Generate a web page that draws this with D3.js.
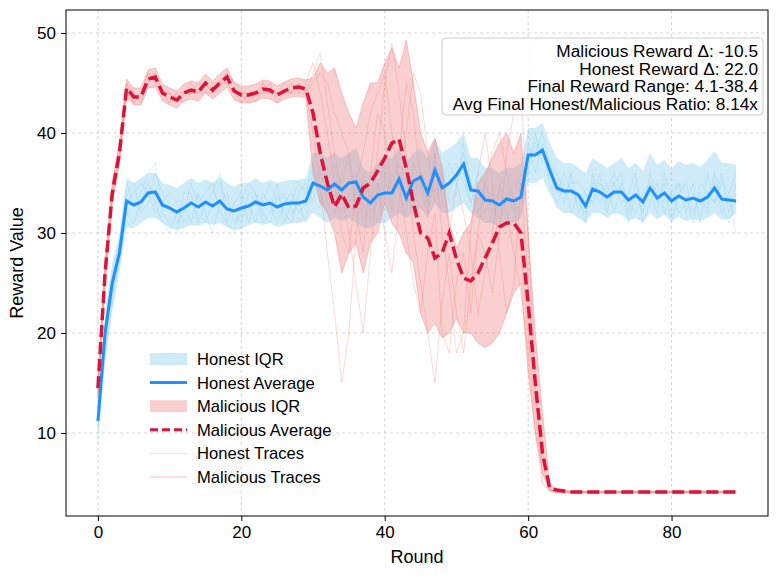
<!DOCTYPE html>
<html><head><meta charset="utf-8">
<script src="https://cdn.jsdelivr.net/npm/d3@7"></script>
<style>
  body { margin: 0; background: #fff; }
  text { font-family: "Liberation Sans", Arial, sans-serif; }
</style></head>
<body><svg id="chart" width="777" height="577"></svg>
<script>
// rounds 0..89
const rounds = d3.range(90)

const honestAvg = [11.2,20,25,28,33.2,32.8,33.1,34,34.1,32.8,32.5,32.1,32.5,33,32.6,33.1,32.7,33.2,32.4,32.2,32.5,32.7,33.1,32.8,33,32.6,32.9,33,33,33.2,35,34.7,34.3,34.9,34.3,35,35.1,33.6,33,33.8,34,34,35.4,33.5,35.2,35.6,34,36.3,34.5,35,35.8,36.9,34.3,34.2,33.3,33.2,32.8,33.4,33.2,33.6,37.8,37.8,38.3,36.3,34.5,34.2,34.2,33.8,32.7,34.4,34.1,33.6,34.1,34.1,33.3,33.8,33.1,34.5,33.5,34,33.2,33.7,33.3,33.5,33.2,33.6,34.5,33.4,33.3,33.2]
const honestLow = [10,17,22,26,30.5,30.5,31,31.5,31.5,31,30.5,30.3,30.5,30.8,30.7,31,30.8,31,30.6,30.3,30.4,30.8,31,30.8,31,30.6,30.8,31,31,31.2,32,31.5,31,31.5,31.2,31.5,31,30.5,30.5,31,31,31.5,32,31.5,32,32.5,31.5,33,32,32,32.5,33,32,31.5,31,31,30.5,31,31,31.5,35,35,35.5,34,32.5,32,32,31.5,31,32,32,31.5,32,31.8,31.2,31.5,31,32,31.4,31.8,31.2,31.6,31.2,31.4,31.2,31.5,32,31.3,31.4,32]
const honestHigh = [12.5,22,27,30,35.5,35,35.5,36,36,35,34.8,34.5,35,35.5,35,35.4,35,35.6,35,34.6,35,35,35.5,35,35.3,35,35.2,35.3,35.3,35.5,38,38,37.5,38,37.5,38,38.5,36.5,36,37,37.5,37.5,38.5,37,38,38.5,37.5,39.5,38,38.5,39,40,37.5,37.5,36.5,36.5,36,36.5,36.5,37,40.5,40.5,41,39,37.5,37,37,36.5,36,37.5,37,36.5,37,37.5,36.5,37,36.2,38,36.8,37.3,36.4,37.2,36.8,37,36.6,37.3,38.2,37,37,36.8]

const malAvg = [14.5,26,34,38,44.5,43.6,43.6,45.4,45.6,44,43.6,43.3,44,44.3,44.1,45,44.3,45,45.6,44.2,43.8,43.8,44,44.4,44.3,43.8,44.2,44.5,44.6,44.4,42,38,35,32.6,33.9,32.5,32.7,34.5,35,36.2,37.5,39,39.4,36.5,33,30,29.5,27.5,28,30,27.4,25.5,25.2,26,27.5,29,30.6,31,31,30,23,15,8,4.5,4.3,4.2,4.1,4.1,4.1,4.1,4.1,4.1,4.1,4.1,4.1,4.1,4.1,4.1,4.1,4.1,4.1,4.1,4.1,4.1,4.1,4.1,4.1,4.1,4.1,4.1]
const malLow = [13.5,25,33,37,43.5,42.8,42.8,44.5,44.6,43.2,42.8,42.5,43.2,43.4,43.2,44,43.4,44,44.6,43.3,43,43,43.2,43.5,43.4,43,43.4,43.6,43.7,43.5,36,33,32,30,26,28,29,26,29,30,33,31,30,28,27,22,20,21,19.5,20,21.5,20,20,19,18.5,19,20,22,24,25,16,10,6,4.2,4,4,4,4,4,4,4,4,4,4,4,4,4,4,4,4,4,4,4,4,4,4,4,4,4,4]
const malHigh = [15.5,27,35,39,45.4,44.5,44.5,46.3,46.5,44.9,44.5,44.2,44.9,45.2,45,45.9,45.2,45.9,46.5,45.1,44.7,44.7,44.9,45.3,45.2,44.7,45.1,45.4,45.5,45.3,45.5,47,46,46.5,44,42,40.5,43,45,45,47,48.5,46.5,49.3,45,40,38,39.5,36.5,31,28.5,30,31,35,36,37.5,39,40,38,40,30,20,12,5,4.3,4.3,4.2,4.2,4.2,4.2,4.2,4.2,4.2,4.2,4.2,4.2,4.2,4.2,4.2,4.2,4.2,4.2,4.2,4.2,4.2,4.2,4.2,4.2,4.2,4.2]

const honestTraces = [
  [10,19,24,27,32,31,33,35,33,31,30,32,33,31,34,32,30,33,34,31,32,33,31,34,33,31,33,34,32,33,36,33,35,37,32,34,36,31,33,35,33,36,34,32,37,35,33,38,33,36,37,35,33,35,32,34,31,34,33,32,39,36,39,35,33,35,32,34,31,36,33,35,32,35,31,34,32,36,33,35,31,34,35,32,34,32,36,33,31,34],
  [12,21,26,29,34,35,32,33,36,34,33,31,32,35,33,34,35,32,31,33,34,31,34,32,31,34,32,31,34,35,33,37,33,32,36,37,33,35,32,33,36,32,37,35,33,36,35,34,37,33,34,39,35,32,34,31,34,33,35,34,36,40,37,37,35,33,36,32,34,33,36,32,35,33,34,36,31,33,35,32,34,32,33,35,31,36,33,35,34,30],
  [9,18,23,28,33,34,35,34,32,33,34,33,31,32,32,31,33,35,33,32,31,34,33,33,35,33,34,32,33,31,35,36,34,35,34,33,34,35,34,31,35,34,35,33,34,36,33,35,36,34,36,36,33,36,35,33,34,35,32,35,38,38,40,37,36,34,35,35,34,33,35,34,36,34,33,32,34,35,34,33,34,35,32,34,33,33,35,32,34,36],
  [11,20,25,29,35,33,34,36,37,32,31,30,34,34,31,33,34,36,31,30,33,35,34,31,32,35,31,33,35,34,37,34,32,36,35,38,34,33,31,34,37,33,36,34,36,34,32,36,35,37,35,38,34,33,35,32,33,31,34,36,37,39,38,36,34,36,34,33,32,35,34,33,35,36,32,35,33,34,32,36,33,35,34,31,35,34,33,36,32,35]
]
const malTraces = [
  [14,26,34,38,45,44,43,46,45,44,44,43,44,45,44,45,44,45,46,44,44,43,44,45,44,44,44,45,44,45,47,44,40,35,30,28,35,38,42,44,46,40,35,30,25,22,28,32,20,18,25,28,22,30,35,38,40,36,33,28,20,12,6,4.3,4.2,4.1,4.1,4.1,4.1,4.1,4.1,4.1,4.1,4.1,4.1,4.1,4.1,4.1,4.1,4.1,4.1,4.1,4.1,4.1,4.1,4.1,4.1,4.1,4.1,4.1],
  [15,26,34,38,44,43,44,45,46,44,43,44,43,44,44,44,45,45,45,44,43,44,44,44,45,43,44,44,45,44,40,35,28,22,15,20,30,36,33,38,45,49,44,38,30,25,20,15,23,28,22,18,25,30,28,24,30,38,42,45,30,15,5,4.2,4.1,4.1,4.1,4.1,4.1,4.1,4.1,4.1,4.1,4.1,4.1,4.1,4.1,4.1,4.1,4.1,4.1,4.1,4.1,4.1,4.1,4.1,4.1,4.1,4.1,4.1],
  [14,25,33,37,44,44,43,45,46,44,44,43,44,44,44,45,44,45,46,45,44,44,44,44,44,44,44,44,45,44,45,46,45,42,40,38,32,28,36,42,40,34,38,45,42,35,32,38,30,25,18,20,30,36,40,35,28,22,25,35,25,14,7,4.4,4.1,4.1,4.1,4.1,4.1,4.1,4.1,4.1,4.1,4.1,4.1,4.1,4.1,4.1,4.1,4.1,4.1,4.1,4.1,4.1,4.1,4.1,4.1,4.1,4.1,4.1],
  [15,27,35,39,45,43,44,46,45,44,43,44,44,44,45,44,44,45,45,44,44,44,43,45,44,44,45,44,44,44,46,48,43,38,34,30,25,20,28,35,30,26,33,40,46,44,38,33,36,30,35,32,28,22,26,30,35,32,28,24,18,10,5,4.3,4.1,4.1,4.1,4.1,4.1,4.1,4.1,4.1,4.1,4.1,4.1,4.1,4.1,4.1,4.1,4.1,4.1,4.1,4.1,4.1,4.1,4.1,4.1,4.1,4.1,4.1]
]

const xTicks = [0, 20, 40, 60, 80]
const yTicks = [10, 20, 30, 40, 50]
const statLines = [
  'Malicious Reward Δ: -10.5',
  'Honest Reward Δ: 22.0',
  'Final Reward Range: 4.1-38.4',
  'Avg Final Honest/Malicious Ratio: 8.14x'
]

const svg = d3.select('#chart')
const m = { left: 66, right: 9, top: 10, bottom: 61 }
const W = 777, H = 577

const x = d3.scaleLinear().domain([-4.45, 93.45]).range([m.left, W - m.right])
const y = d3.scaleLinear().domain([1.7, 52.3]).range([H - m.bottom, m.top])

const g = svg.append('g')

// grid
g.selectAll('.gx').data(xTicks).join('line')
  .attr('x1', d => x(d)).attr('x2', d => x(d))
  .attr('y1', m.top).attr('y2', H - m.bottom)
  .attr('stroke', '#c8c8c8').attr('stroke-width', 0.8).attr('stroke-dasharray', '3,3')
g.selectAll('.gy').data(yTicks).join('line')
  .attr('y1', d => y(d)).attr('y2', d => y(d))
  .attr('x1', m.left).attr('x2', W - m.right)
  .attr('stroke', '#c8c8c8').attr('stroke-width', 0.8).attr('stroke-dasharray', '3,3')

const line = vals => d3.line().x((d, i) => x(rounds[i])).y(d => y(d))(vals)
const band = (lo, hi) => d3.area().x((d, i) => x(rounds[i])).y0((d, i) => y(lo[i])).y1(d => y(d))(hi)

g.selectAll('.ht').data(honestTraces).join('path')
  .attr('d', line).attr('fill', 'none').attr('stroke', '#87ceeb').attr('stroke-opacity', 0.3).attr('stroke-width', 1)
g.selectAll('.mt').data(malTraces).join('path')
  .attr('d', line).attr('fill', 'none').attr('stroke', '#fa8072').attr('stroke-opacity', 0.3).attr('stroke-width', 1)

g.append('path').attr('d', band(honestLow, honestHigh)).attr('fill', '#87ceeb').attr('fill-opacity', 0.4)
g.append('path').attr('d', band(malLow, malHigh)).attr('fill', '#f08080').attr('fill-opacity', 0.38)
  .attr('stroke', '#f08080').attr('stroke-opacity', 0.4)

g.append('path').attr('d', line(honestAvg)).attr('fill', 'none').attr('stroke', '#1e90ff').attr('stroke-width', 3)
g.append('path').attr('d', line(malAvg)).attr('fill', 'none').attr('stroke', '#dc143c')
  .attr('stroke-width', 3.5).attr('stroke-dasharray', '12,5')

// frame + axes
svg.append('rect').attr('x', m.left).attr('y', m.top)
  .attr('width', W - m.left - m.right).attr('height', H - m.top - m.bottom)
  .attr('fill', 'none').attr('stroke', '#000').attr('stroke-width', 1)

const xAxis = svg.append('g').attr('transform', `translate(0,${H - m.bottom})`)
  .call(d3.axisBottom(x).tickValues(xTicks).tickSize(5).tickPadding(5))
const yAxis = svg.append('g').attr('transform', `translate(${m.left},0)`)
  .call(d3.axisLeft(y).tickValues(yTicks).tickSize(5).tickPadding(5))
;[xAxis, yAxis].forEach(a => {
  a.select('.domain').remove()
  a.selectAll('text').attr('font-size', 17).attr('fill', '#000')
    .style('font-family', '"Liberation Sans", Arial, sans-serif')
})

svg.append('text').attr('x', (m.left + W - m.right) / 2).attr('y', 563)
  .attr('text-anchor', 'middle').attr('font-size', 18).text('Round')
svg.append('text').attr('transform', `translate(23,${(m.top + H - m.bottom) / 2}) rotate(-90)`)
  .attr('text-anchor', 'middle').attr('font-size', 18).text('Reward Value')

// stats box
svg.append('rect').attr('x', 442).attr('y', 38).attr('width', 321).attr('height', 77).attr('rx', 4)
  .attr('fill', '#fff').attr('fill-opacity', 0.8).attr('stroke', '#ccc')
svg.selectAll('.stat').data(statLines).join('text')
  .attr('x', 758).attr('y', (d, i) => 57 + i * 17.5)
  .attr('text-anchor', 'end').attr('font-size', 17.3).text(d => d)

// legend
const legend = [
  { label: 'Honest IQR', type: 'rect', color: '#87ceeb', op: 0.4 },
  { label: 'Honest Average', type: 'line', color: '#1e90ff', w: 3 },
  { label: 'Malicious IQR', type: 'rect', color: '#f08080', op: 0.38 },
  { label: 'Malicious Average', type: 'line', color: '#dc143c', w: 3, dash: '8,4' },
  { label: 'Honest Traces', type: 'line', color: '#87ceeb', w: 1, op: 0.35 },
  { label: 'Malicious Traces', type: 'line', color: '#fa8072', w: 1, op: 0.5 }
]
const lg = svg.selectAll('.lg').data(legend).join('g')
  .attr('transform', (d, i) => `translate(150,${359 + i * 23.6})`)
lg.filter(d => d.type === 'rect').append('rect')
  .attr('x', 0).attr('y', -6).attr('width', 37).attr('height', 12)
  .attr('fill', d => d.color).attr('fill-opacity', d => d.op)
lg.filter(d => d.type === 'line').append('line')
  .attr('x1', 0).attr('x2', 37)
  .attr('stroke', d => d.color).attr('stroke-width', d => d.w)
  .attr('stroke-opacity', d => d.op || 1).attr('stroke-dasharray', d => d.dash || null)
lg.append('text').attr('x', 47).attr('y', 6).attr('font-size', 16.6).text(d => d.label)
</script></body></html>
